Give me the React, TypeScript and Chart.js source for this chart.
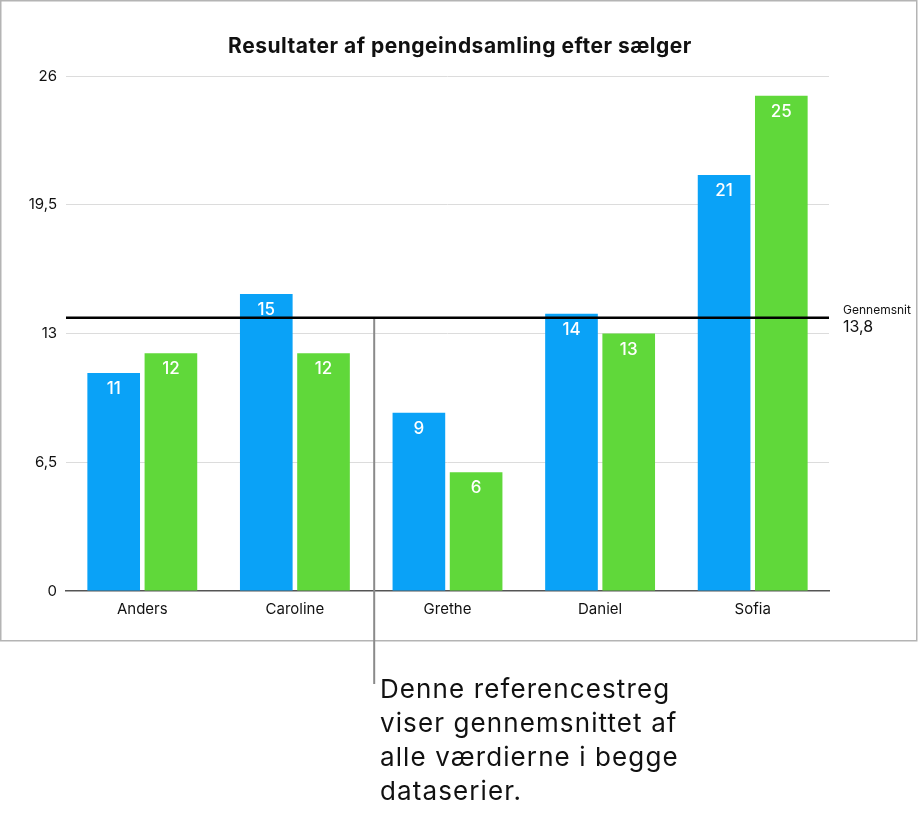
import { useEffect, useRef } from 'react'
import { Chart, registerables } from 'chart.js'

Chart.register(...registerables)

const sellers = ['Anders', 'Caroline', 'Grethe', 'Daniel', 'Sofia']
const seriesA = [11, 15, 9, 14, 21]
const seriesB = [12, 12, 6, 13, 25]
const yTicks = [0, 6.5, 13, 19.5, 26]

const title = 'Resultater af pengeindsamling efter sælger'
const avgLabel = 'Gennemsnit'
const note = ['Denne referencestreg', 'viser gennemsnittet af', 'alle værdierne i begge', 'dataserier.']

const BLUE = '#0aa2f7'
const GREEN = '#60d83a'
const FONT = 'Inter, "Liberation Sans", Arial, sans-serif'

const allValues = [...seriesA, ...seriesB]
const average = Math.round((allValues.reduce((s, v) => s + v, 0) / allValues.length) * 10) / 10

function comma(v: number) {
  return String(v).replace('.', ',')
}

export default function App() {
  const canvasRef = useRef<HTMLCanvasElement | null>(null)
  const chartRef = useRef<Chart | null>(null)

  useEffect(() => {
    const ctx = canvasRef.current?.getContext('2d')
    if (!ctx) return

    // frame, title, reference line, callout line and value labels
    const extras = {
      id: 'extras',
      beforeDraw(chart: Chart) {
        const c = chart.ctx as any
        c.save()
        c.strokeStyle = '#b4b4b4'
        c.lineWidth = 1.5
        c.strokeRect(0.75, 0.75, 916, 640)

        c.fillStyle = '#111'
        c.textAlign = 'center'
        c.textBaseline = 'middle'
        c.font = `bold 21px ${FONT}`
        c.letterSpacing = '0.5px'
        c.fillText(title, 460, 47)
        c.restore()
      },
      afterDatasetsDraw(chart: Chart) {
        const c = chart.ctx
        const { left, right } = chart.chartArea
        const y = chart.scales.y.getPixelForValue(average)
        const x = chart.scales.x.getPixelForValue(1.5) + 3

        c.save()
        // callout line down to the note
        c.strokeStyle = '#8a8a8a'
        c.lineWidth = 2
        c.beginPath()
        c.moveTo(x, y)
        c.lineTo(x, 684)
        c.stroke()

        // average line
        c.strokeStyle = '#000'
        c.lineWidth = 2.5
        c.beginPath()
        c.moveTo(left, y)
        c.lineTo(right, y)
        c.stroke()

        c.fillStyle = '#111'
        c.textAlign = 'left'
        c.textBaseline = 'middle'
        c.font = `12px ${FONT}`
        c.fillText(avgLabel, right + 14, y - 7)
        c.font = `16px ${FONT}`
        c.fillText(comma(average), right + 14, y + 10)

        // value labels inside bars
        c.fillStyle = '#fff'
        c.textAlign = 'center'
        c.font = `500 17px ${FONT}`
        chart.data.datasets.forEach((ds, i) => {
          const meta = chart.getDatasetMeta(i)
          meta.data.forEach((el: any, j) => {
            c.fillText(String(ds.data[j]), el.x, el.y + 16)
          })
        })
        c.restore()
      },
    }

    chartRef.current = new Chart(ctx, {
      type: 'bar',
      data: {
        labels: sellers,
        datasets: [
          {
            label: 'A',
            data: seriesA,
            backgroundColor: BLUE,
            categoryPercentage: 0.75,
            barPercentage: 0.92,
          },
          {
            label: 'B',
            data: seriesB,
            backgroundColor: GREEN,
            categoryPercentage: 0.75,
            barPercentage: 0.92,
          },
        ],
      },
      options: {
        responsive: false,
        animation: false,
        layout: { padding: { left: 0, right: 89, top: 76, bottom: 173 } },
        scales: {
          x: {
            grid: { display: false, drawTicks: false },
            border: { display: true, color: '#555', width: 1.5 },
            ticks: { color: '#111', font: { family: FONT, size: 15 }, padding: 9 },
            afterFit(scale: any) {
              scale.height = 50
            },
          },
          y: {
            min: 0,
            max: 26,
            afterBuildTicks(scale: any) {
              scale.ticks = yTicks.map((v) => ({ value: v }))
            },
            grid: {
              drawTicks: false,
              color: (c: any) => (c.tick && c.tick.value === 0 ? 'rgba(0,0,0,0)' : '#dcdcdc'),
              lineWidth: 1,
            },
            border: { display: false },
            ticks: {
              color: '#111',
              font: { family: FONT, size: 15 },
              padding: 9,
              callback: (v: any) => comma(Number(v)),
            },
            afterFit(scale: any) {
              scale.width = 66
            },
          },
        },
        plugins: {
          legend: { display: false },
          tooltip: { enabled: false },
          title: { display: false },
        },
      },
      plugins: [extras],
    })

    return () => {
      chartRef.current?.destroy()
      chartRef.current = null
    }
  }, [])

  return (
    <div style={{ position: 'absolute', left: 0, top: 0, width: 918, height: 814, background: '#fff' }}>
      <canvas ref={canvasRef} width={918} height={814} style={{ display: 'block' }} />
      <div
        style={{
          position: 'absolute',
          left: 380,
          top: 672,
          fontFamily: FONT,
          fontSize: 26,
          lineHeight: '34px',
          letterSpacing: '1.1px',
          color: '#111',
          whiteSpace: 'nowrap',
        }}
      >
        {note.map((line) => (
          <div key={line}>{line}</div>
        ))}
      </div>
    </div>
  )
}
